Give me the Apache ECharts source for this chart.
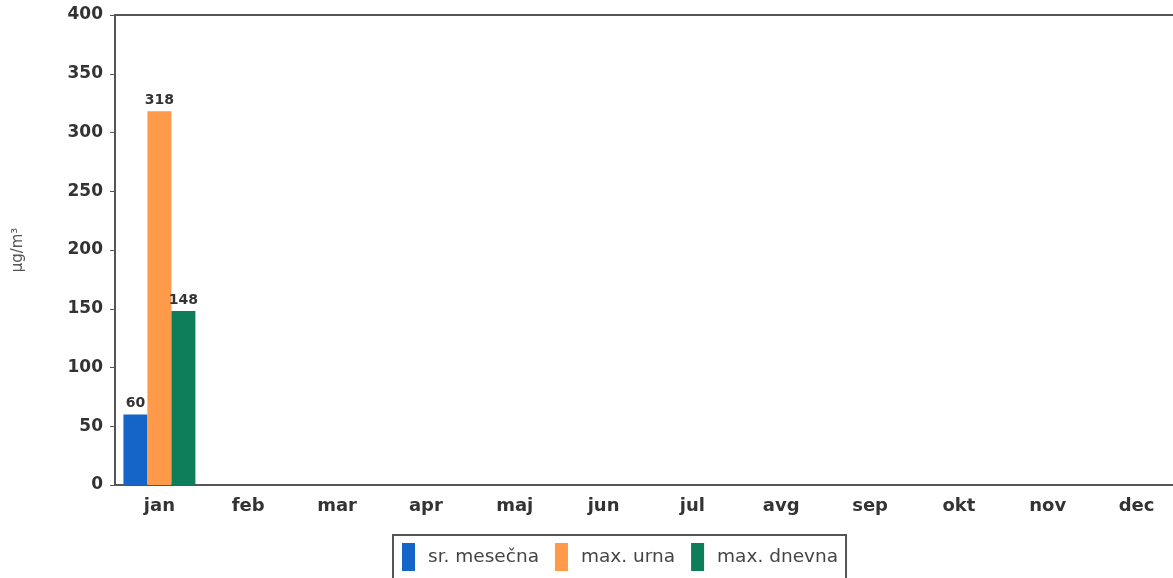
<!DOCTYPE html>
<html><head><meta charset="utf-8">
<script src="https://cdn.jsdelivr.net/npm/echarts@6/dist/echarts.min.js"></script>
<style>html,body{margin:0;padding:0;background:#fff}#c{width:1173px;height:578px}</style>
</head><body><div id="c"></div>
<script>
const categories = ['jan','feb','mar','apr','maj','jun','jul','avg','sep','okt','nov','dec'];
const srMesecna = [60, null, null, null, null, null, null, null, null, null, null, null];
const maxUrna = [318, null, null, null, null, null, null, null, null, null, null, null];
const maxDnevna = [148, null, null, null, null, null, null, null, null, null, null, null];
const seriesNames = ['sr. mesečna', 'max. urna', 'max. dnevna'];
const colors = ['#1565c8', '#ff9a4a', '#0e7d5a'];

const chart = echarts.init(document.getElementById('c'));
const font = 'DejaVu Sans';
const lbl = {show: true, position: 'top', color: '#333', fontFamily: font, fontSize: 14, fontWeight: 'bold', distance: 4};
chart.setOption({
  animation: false,
  color: colors,
  grid: {left: 115, top: 15, bottom: 93, width: 1066, containLabel: false, outerBoundsMode: 'none'},
  legend: {
    left: 393, top: 535, padding: [8, 8, 8, 9], itemGap: 16,
    borderColor: '#555', borderWidth: 2, itemWidth: 13, itemHeight: 28,
    icon: 'rect',
    textStyle: {fontFamily: font, fontSize: 18.5, color: '#444', padding: [0, 0, 0, 8]},
    data: seriesNames
  },
  xAxis: [{
    type: 'category', data: categories,
    axisLine: {lineStyle: {color: '#555', width: 2}},
    axisTick: {alignWithLabel: true, length: 4, lineStyle: {color: '#555'}},
    axisLabel: {fontFamily: font, fontSize: 18, fontWeight: 'bold', color: '#333', margin: 12}
  }, {
    type: 'category', data: categories, position: 'top',
    axisLine: {show: true, lineStyle: {color: '#555', width: 2}},
    axisTick: {show: false}, axisLabel: {show: false}
  }],
  yAxis: {
    type: 'value', min: 0, max: 400, interval: 50,
    name: 'μg/m³', nameLocation: 'middle', nameGap: 89, nameRotate: 90,
    nameTextStyle: {fontFamily: font, fontSize: 15, color: '#555'},
    axisLine: {show: true, lineStyle: {color: '#555', width: 2}},
    axisTick: {show: true, length: 5, lineStyle: {color: '#555'}},
    splitLine: {show: false},
    axisLabel: {fontFamily: font, fontSize: 17, fontWeight: 'bold', color: '#333', margin: 12}
  },
  series: [
    {name: seriesNames[0], type: 'bar', data: srMesecna, barGap: '0%', barCategoryGap: '19%', label: lbl},
    {name: seriesNames[1], type: 'bar', data: maxUrna, barGap: '0%', barCategoryGap: '19%', label: lbl},
    {name: seriesNames[2], type: 'bar', data: maxDnevna, barGap: '0%', barCategoryGap: '19%', label: lbl}
  ]
});
</script></body></html>
